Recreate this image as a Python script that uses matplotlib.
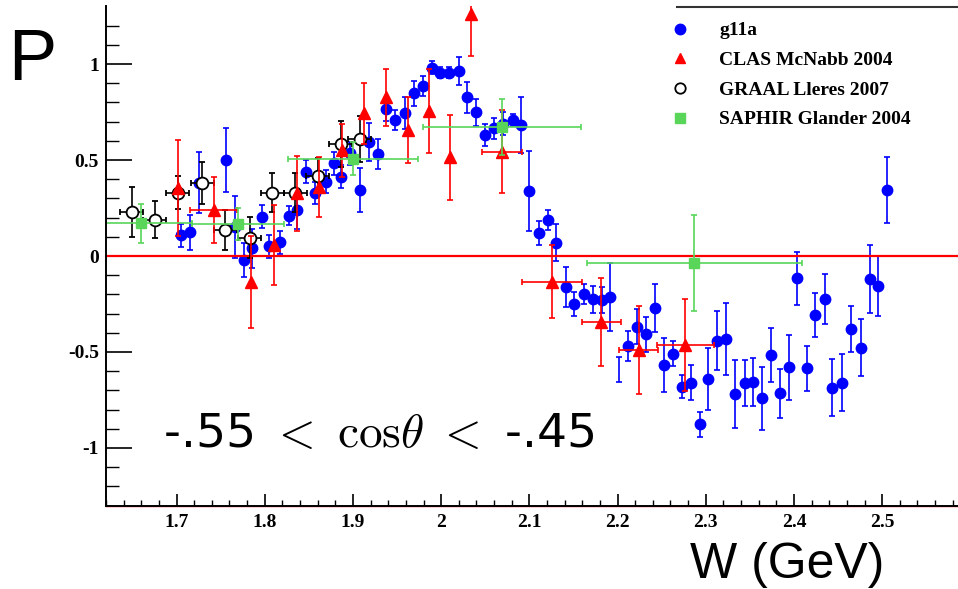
import matplotlib
matplotlib.use("Agg")
import matplotlib.pyplot as plt
from matplotlib.lines import Line2D
import numpy as np

plt.rcParams['mathtext.fontset'] = 'cm'

# ---------------- data ----------------
# g11a (blue circles)
g11a_W = [1.705, 1.715, 1.725, 1.756, 1.766, 1.776, 1.786, 1.797, 1.805, 1.817,
          1.827, 1.837, 1.847, 1.857, 1.869, 1.878, 1.887, 1.897, 1.9075, 1.918,
          1.928, 1.938, 1.948, 1.9585, 1.969, 1.979, 1.9895, 1.999, 2.009, 2.020,
          2.029, 2.040, 2.050, 2.060, 2.070, 2.081, 2.091, 2.100, 2.111, 2.121,
          2.1305, 2.141, 2.151, 2.162, 2.172, 2.182, 2.192, 2.212, 2.222, 2.232,
          2.2425, 2.2525, 2.263, 2.273, 2.2835, 2.293, 2.303, 2.313, 2.323, 2.333,
          2.344, 2.354, 2.364, 2.374, 2.3845, 2.394, 2.404, 2.415, 2.424, 2.435,
          2.443, 2.455, 2.465, 2.4755, 2.486, 2.4955, 2.505]
g11a_P = [0.109, 0.123, 0.382, 0.500, 0.150, -0.020, 0.040, 0.205, 0.050, 0.071,
          0.21, 0.24, 0.44, 0.33, 0.387, 0.483, 0.413, 0.535, 0.344, 0.595,
          0.53, 0.764, 0.708, 0.743, 0.847, 0.885, 0.981, 0.955, 0.955, 0.965,
          0.826, 0.748, 0.63, 0.665, 0.69, 0.708, 0.682, 0.339, 0.118, 0.1875,
          0.069, -0.16, -0.25, -0.198, -0.226, -0.229, -0.212, -0.467, -0.368, -0.408,
          -0.272, -0.568, -0.51, -0.68, -0.66, -0.877, -0.64, -0.441, -0.434, -0.72,
          -0.663, -0.655, -0.741, -0.516, -0.715, -0.58, -0.116, -0.585, -0.307, -0.226,
          -0.686, -0.66, -0.38, -0.477, -0.121, -0.156, 0.344]
g11a_err = [0.06, 0.09, 0.16, 0.165, 0.16, 0.087, 0.10, 0.06, 0.06, 0.06,
            0.05, 0.10, 0.06, 0.057, 0.06, 0.06, 0.06, 0.06, 0.113, 0.10,
            0.077, 0.06, 0.05, 0.084, 0.066, 0.054, 0.035, 0.03, 0.03, 0.072,
            0.08, 0.07, 0.058, 0.054, 0.06, 0.03, 0.146, 0.21, 0.063, 0.054,
            0.096, 0.104, 0.063, 0.052, 0.07, 0.07, 0.177, 0.078, 0.09, 0.09,
            0.124, 0.14, 0.065, 0.06, 0.09, 0.065, 0.163, 0.152, 0.187, 0.176,
            0.12, 0.125, 0.165, 0.14, 0.128, 0.17, 0.139, 0.117, 0.116, 0.13,
            0.148, 0.148, 0.12, 0.148, 0.178, 0.155, 0.17]
# g11a bin shown with error bar only
g11a_bar_W = [2.2015]
g11a_bar_P = [-0.591]
g11a_bar_err = [0.064]

# CLAS McNabb 2004 (red triangles)
clas_W = [1.7015, 1.742, 1.784, 1.810, 1.836, 1.862, 1.888, 1.913, 1.937, 1.962,
          1.986, 2.010, 2.034, 2.069, 2.1255, 2.1815, 2.224, 2.277]
clas_P = [0.355, 0.24, -0.134, 0.057, 0.326, 0.36, 0.55, 0.743, 0.826, 0.656,
          0.755, 0.514, 1.26, 0.543, -0.134, -0.342, -0.49, -0.464]
clas_xerr = [0, 0.027, 0, 0, 0, 0, 0, 0, 0, 0,
             0, 0, 0, 0.023, 0.034, 0.022, 0.022, 0.032]
clas_err = [0.25, 0.17, 0.24, 0.21, 0.195, 0.157, 0.14, 0.16, 0.15, 0.17,
            0.22, 0.22, 0.22, 0.216, 0.19, 0.23, 0.23, 0.24]

# GRAAL Lleres 2007 (open circles)
graal_W = [1.649, 1.675, 1.7015, 1.729, 1.755, 1.783, 1.8085, 1.8346, 1.860, 1.886, 1.9075]
graal_P = [0.231, 0.19, 0.33, 0.379, 0.135, 0.095, 0.33, 0.33, 0.418, 0.583, 0.608]
graal_xerr = [0.013] * 11
graal_err = [0.13, 0.095, 0.085, 0.11, 0.105, 0.107, 0.10, 0.10, 0.09, 0.12, 0.12]

# SAPHIR Glander 2004 (green squares)
saphir_W = [1.660, 1.770, 1.900, 2.069, 2.287]
saphir_P = [0.17, 0.167, 0.507, 0.673, -0.038]
saphir_xerr = [0.058, 0.052, 0.074, 0.090, 0.122]
saphir_err = [0.10, 0.085, 0.085, 0.145, 0.25]

x_ticks = [1.7, 1.8, 1.9, 2.0, 2.1, 2.2, 2.3, 2.4, 2.5]
x_ticklabels = ['1.7', '1.8', '1.9', '2', '2.1', '2.2', '2.3', '2.4', '2.5']
y_ticks = [-1, -0.5, 0, 0.5, 1]
y_ticklabels = ['-1', '-0.5', '0', '0.5', '1']

# ---------------- figure ----------------
W_PX, H_PX = 958, 589
fig = plt.figure(figsize=(W_PX / 100, H_PX / 100), dpi=100)
ax = fig.add_axes([106 / W_PX, (H_PX - 505.6) / H_PX, (W_PX - 106) / W_PX, 499.2 / H_PX])
ax.set_xlim(1.62, 2.586)
ax.set_ylim(-1.3, 1.3)

BLUE = '#0000ff'
RED = '#ff0000'
GREEN = '#59d659'

ax.errorbar(g11a_W, g11a_P, yerr=g11a_err, fmt='o', color=BLUE, ms=7.5,
            elinewidth=1.2, capsize=2.2, capthick=1.2, zorder=3)
ax.errorbar(g11a_bar_W, g11a_bar_P, yerr=g11a_bar_err, fmt='none', ecolor=BLUE,
            elinewidth=1.2, capsize=2.2, capthick=1.2, zorder=3)
ax.axhline(0, color=RED, lw=1.6, zorder=3.5)
ax.errorbar(graal_W, graal_P, xerr=graal_xerr, yerr=graal_err, fmt='o', color='black',
            mfc='white', mec='black', mew=1.3, ms=8.5,
            elinewidth=1.2, capsize=2.2, capthick=1.2, zorder=4)
ax.errorbar(clas_W, clas_P, xerr=clas_xerr, yerr=clas_err, fmt='^', color=RED, ms=8.5,
            elinewidth=1.2, capsize=2.2, capthick=1.2, zorder=5)
ax.errorbar(saphir_W, saphir_P, xerr=saphir_xerr, yerr=saphir_err, fmt='s', color=GREEN,
            ms=7.5, elinewidth=1.2, capsize=2.2, capthick=1.2, zorder=6)

# axes styling
for s in ['top', 'right']:
    ax.spines[s].set_visible(False)
for s in ['left', 'bottom']:
    ax.spines[s].set_linewidth(1.4)
    ax.spines[s].set_zorder(10)
ax.axhline(-1.3, color=RED, lw=1.0, zorder=9, clip_on=False)

ax.set_xticks(x_ticks)
ax.set_xticklabels(x_ticklabels)
ax.set_yticks(y_ticks)
ax.set_yticklabels(y_ticklabels)
ax.set_xticks(np.arange(1.62, 2.59, 0.02), minor=True)
ax.set_yticks(np.arange(-1.2, 1.25, 0.1), minor=True)
ax.tick_params(axis='y', which='major', direction='in', length=19, width=1.2, pad=5)
ax.tick_params(axis='y', which='minor', direction='in', length=9.5, width=1.0)
ax.tick_params(axis='x', which='major', direction='in', length=9, width=1.2, pad=6)
ax.tick_params(axis='x', which='minor', direction='in', length=4.5, width=1.0)
for lab in ax.get_xticklabels() + ax.get_yticklabels():
    lab.set_fontfamily('Liberation Serif')
    lab.set_fontweight('bold')
    lab.set_fontsize(14)

# texts
fig.text(8 / W_PX, 1 - 80 / H_PX, 'P', fontsize=52, family='Liberation Sans',
         ha='left', va='baseline')
fig.text(884 / W_PX, 1 - 578 / H_PX, 'W (GeV)', fontsize=36, family='Liberation Sans',
         ha='right', va='baseline')
fig.text(163 / W_PX, 1 - 447 / H_PX,
         r'-.55 $<\ \mathrm{cos}\theta\ <$ -.45',
         fontsize=34, family='DejaVu Sans', ha='left', va='baseline')

# legend
handles = [
    Line2D([], [], ls='none', marker='o', color=BLUE, ms=7.5),
    Line2D([], [], ls='none', marker='^', color=RED, ms=7),
    Line2D([], [], ls='none', marker='o', mfc='white', mec='black', mew=1.3, ms=7.5),
    Line2D([], [], ls='none', marker='s', color=GREEN, ms=7),
]
labels = ['g11a', 'CLAS McNabb 2004', 'GRAAL Lleres 2007', 'SAPHIR Glander 2004']
leg = fig.legend(handles, labels, loc='upper left',
                 bbox_to_anchor=(661 / W_PX, 1 - 12 / H_PX),
                 frameon=False, prop={'family': 'Liberation Serif', 'weight': 'bold', 'size': 14},
                 handlelength=1.0, handletextpad=1.5, labelspacing=0.62, borderpad=0)
fig.add_artist(Line2D([677 / W_PX, 1.0], [1 - 7 / H_PX, 1 - 7 / H_PX],
                      transform=fig.transFigure, color='#333333', lw=1.5))

fig.savefig('out.png', dpi=100)
